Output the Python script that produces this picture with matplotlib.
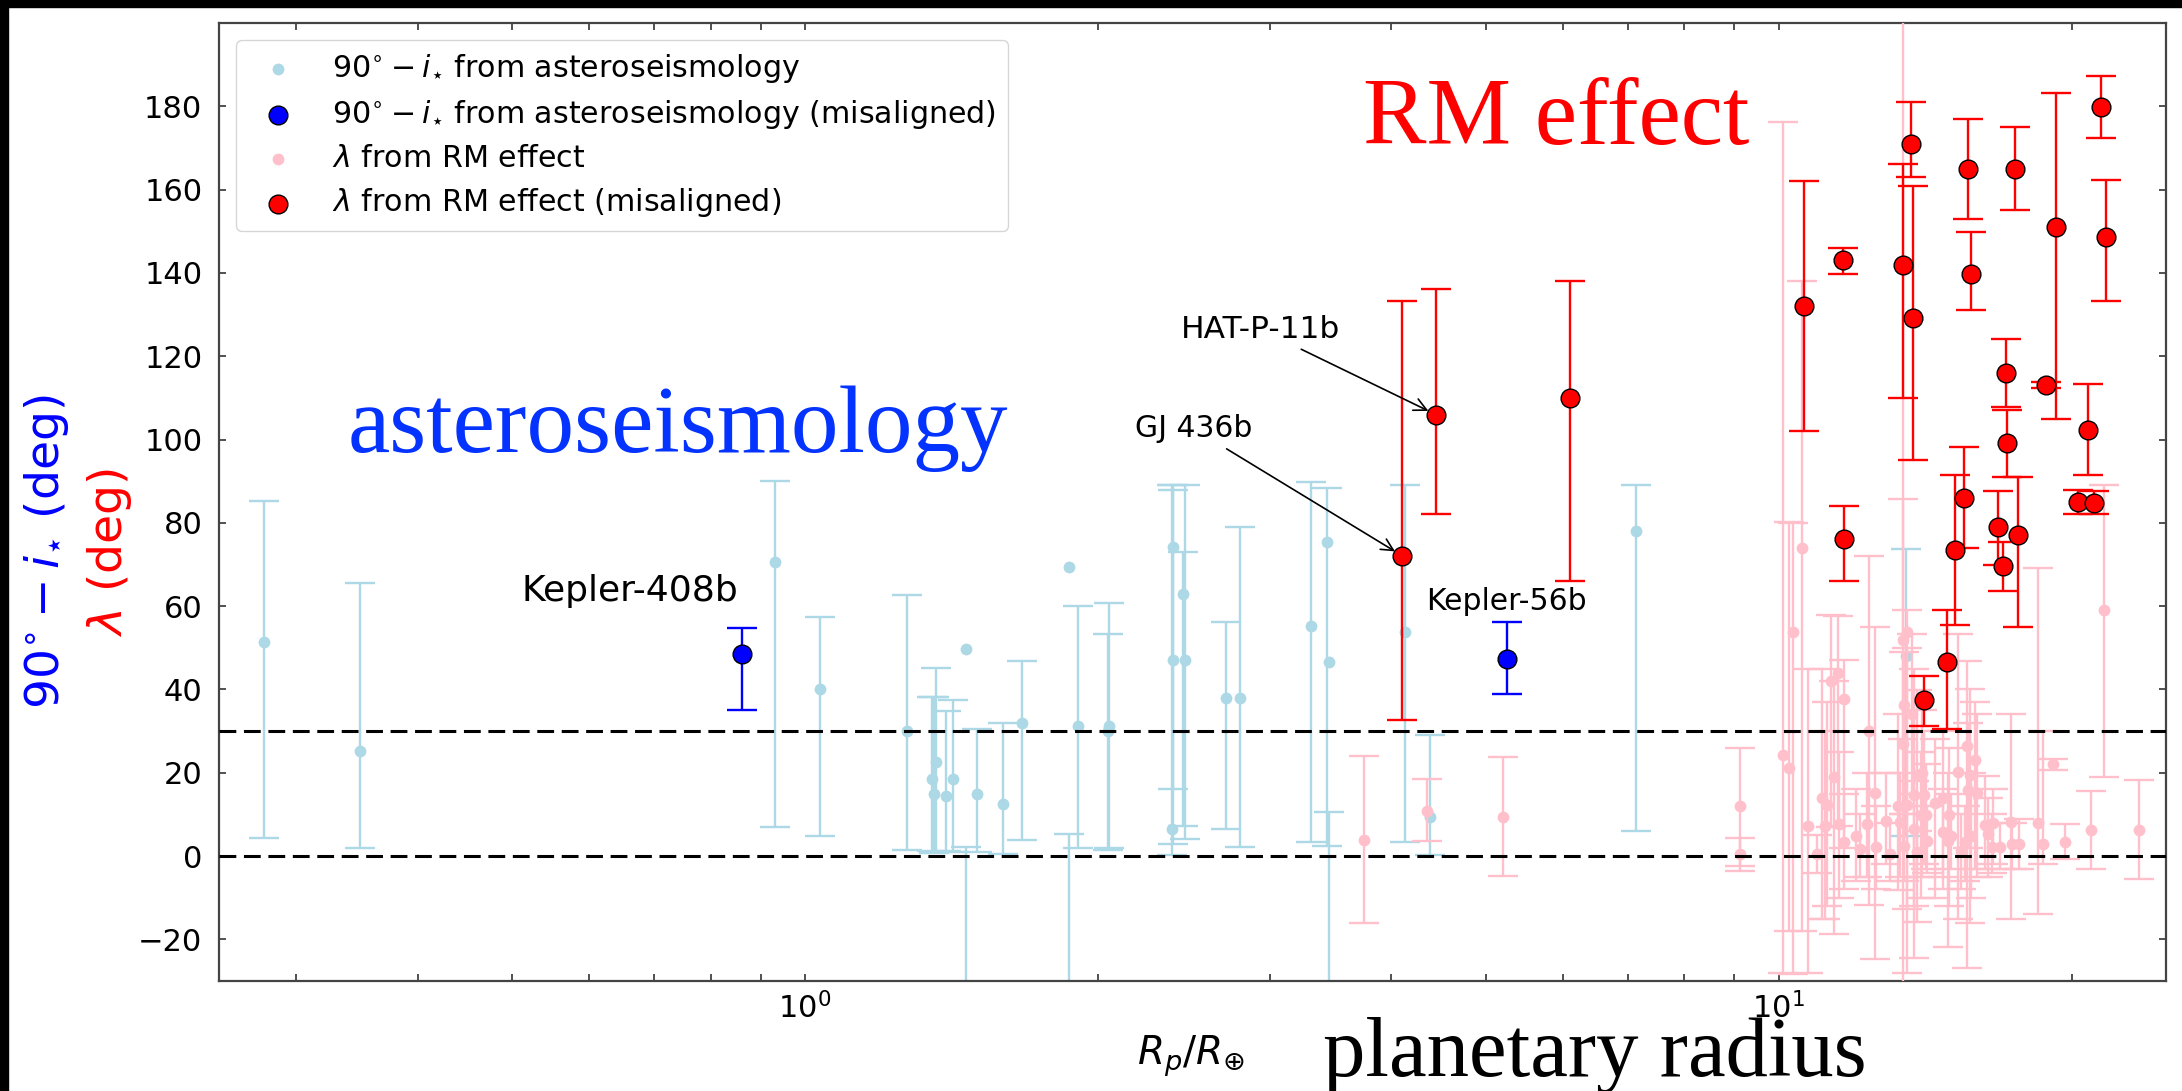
import numpy as np
import matplotlib
matplotlib.use("Agg")
import matplotlib.pyplot as plt
from matplotlib.patches import Rectangle

# ---------------- data ----------------
# 90 - i_star from asteroseismology (aligned); bars given by their end points
ast_R = [0.278, 0.349, 0.931, 1.036, 1.272, 1.364, 1.349, 1.357, 1.394, 1.418, 1.462, 1.502,
         1.596, 1.669, 1.866, 1.909, 2.050, 2.045, 2.387, 2.390, 2.381, 2.443, 2.458, 2.708,
         2.795, 3.309, 3.434, 3.45, 4.134, 4.38, 7.138, 13.53]
ast_val = [51.3, 25.2, 70.7, 40.2, 30.1, 22.6, 18.6, 14.9, 14.4, 18.5, 49.6, 14.9,
           12.6, 32.0, 69.3, 31.2, 31.2, 30.1, 74.1, 47.0, 6.4, 62.8, 47.0, 37.9,
           37.9, 55.2, 75.5, 46.6, 53.8, 9.4, 78.1, 48.1]
ast_lo = [4.3, 1.9, 7.0, 4.7, 1.5, 0.9, 1.1, 0.7, 1.3, 0.9, -70.0, 1.0,
          0.4, 3.9, -70.0, 1.9, 1.9, 1.5, 3.0, 16.2, 0.2, 7.3, 4.1, 6.6,
          2.1, 3.3, 2.3, -70.0, 3.4, 0.3, 6.1, 4.9]
ast_hi = [85.3, 65.5, 90.0, 57.3, 62.7, 45.2, 38.2, 38.1, 34.8, 37.4, 2.1, 30.5,
          31.9, 46.9, 5.2, 60.0, 60.7, 53.3, 89.0, 87.8, 89.0, 73.0, 89.0, 56.3,
          79.1, 89.8, 88.4, 10.6, 89.0, 29.0, 89.0, 73.6]

# asteroseismology misaligned
mast_R = [0.861, 5.26]
mast_val = [48.4, 47.3]
mast_lo = [35.1, 38.8]
mast_hi = [54.7, 56.2]

# lambda from RM effect (aligned)
rm_R = [3.753, 4.35, 5.21, 9.13, 9.13, 10.10, 10.24, 10.34, 10.57, 10.71, 11.31, 11.50,
        11.68, 11.40, 11.09, 11.22, 11.15, 11.53, 11.68, 10.96, 12.0, 12.39, 12.56, 12.33,
        12.59, 12.11, 12.9, 13.25, 13.02, 13.42, 13.55, 13.45, 13.71, 13.88, 14.05, 13.77,
        14.11, 13.55, 13.99, 14.16, 13.34, 13.77, 14.2, 13.45, 13.88, 13.41, 14.48, 14.74,
        14.95, 14.74, 15.04, 14.92, 15.28, 15.63, 15.93, 15.74, 15.65, 15.97, 15.78, 15.53,
        15.40, 16.29, 16.62, 16.42, 16.55, 16.89, 17.34, 17.37, 17.65, 18.45, 18.7, 19.12,
        19.71, 20.92, 21.59, 23.45]
rm_val = [3.9, 10.9, 9.3, 12.0, 0.4, 24.2, 21.2, 53.9, 74.0, 7.1, 42.0, 43.9,
          37.6, 19.0, 14.0, 12.2, 7.1, 7.8, 3.3, 0.6, 4.9, 30.1, 15.1, 7.6,
          2.1, 1.7, 8.4, 12.0, 0.4, 51.9, 53.9, 36.2, 34.2, 19.5, 19.9, 14.7,
          14.7, 12.2, 9.8, 9.9, 8.1, 6.5, 3.7, 2.5, 0.9, 26.8, 12.8, 14.0,
          9.8, 5.7, 4.9, 3.7, 20.2, 26.3, 23.0, 19.4, 15.9, 15.1, 4.9, 3.3,
          1.2, 7.4, 7.9, 5.3, 2.1, 2.1, 8.1, 2.9, 2.9, 8.0, 3.0, 22.2,
          3.4, 6.3, 59.0, 6.3]
rm_lo = [-16.1, 3.7, -4.8, -2.4, -3.5, -28.0, -18.0, -28.2, -17.9, -28.0, 7.0, 7.3,
         2.0, -18.7, -15.0, -12.0, -15.0, -10.0, -8.0, -4.0, -6.0, -11.8, -24.8, -5.0,
         -8.0, -5.0, -2.0, -8.1, -6.0, 28.0, -12.6, 10.0, 15.0, -15.8, -5.0, -24.4,
         -2.0, -28.0, -10.0, -3.0, -5.0, -12.0, -4.0, -6.0, -5.0, -45.0, -10.0, -5.0,
         -12.0, -8.0, -3.0, -21.9, -15.2, -26.8, -3.0, -16.1, 2.0, -5.0, -10.0, -6.0,
         -8.0, -3.2, -2.0, -5.0, -4.0, -3.0, -15.2, -3.0, -3.2, -14.0, -2.0, 20.7,
         -0.8, -3.0, 18.9, -5.5]
rm_hi = [24.0, 18.5, 23.7, 25.9, 4.3, 176.2, 80.1, 80.0, 138.0, 44.9, 57.9, 57.6,
         47.0, 42.0, 44.9, 37.0, 30.0, 25.0, 15.0, 5.0, 16.0, 72.0, 54.9, 20.0,
         12.0, 10.0, 20.0, 34.2, 8.0, 85.8, 59.0, 49.0, 53.3, 39.9, 35.0, 45.0,
         30.0, 50.0, 25.0, 22.0, 20.0, 18.0, 12.0, 10.0, 6.0, 215.0, 28.0, 30.0,
         26.0, 16.0, 15.0, 20.0, 53.2, 46.8, 37.0, 40.0, 32.0, 34.0, 20.0, 12.0,
         10.0, 19.1, 16.0, 14.0, 10.0, 8.0, 34.0, 8.0, 9.0, 69.1, 30.0, 23.4,
         7.7, 15.6, 89.1, 18.2]

# lambda from RM effect (misaligned)
mrm_R = [4.105, 4.446, 6.099, 10.62, 11.65, 11.68, 13.41, 13.67, 13.73, 15.64, 15.77, 17.49,
         17.11, 17.17, 18.82, 19.28, 21.43, 21.68, 20.8, 20.3, 21.1, 15.52, 15.16, 14.89,
         14.11, 16.81, 17.0, 17.6]
mrm_val = [72.1, 106.0, 110.0, 132.0, 143.0, 76.0, 142.0, 170.9, 129.1, 165.0, 139.7, 165.0,
           116.0, 99.1, 113.0, 151.0, 179.8, 148.7, 102.2, 85.0, 84.8, 86.0, 73.5, 46.7,
           37.4, 79.0, 69.6, 77.1]
mrm_lo = [32.7, 82.0, 66.0, 102.0, 139.8, 66.0, 110.0, 163.0, 95.1, 153.0, 131.1, 155.0,
          107.7, 90.9, 112.4, 105.0, 172.4, 133.3, 91.6, 82.0, 82.0, 74.0, 55.5, 30.4,
          31.3, 69.9, 63.6, 55.0]
mrm_hi = [133.2, 136.1, 138.0, 162.0, 146.1, 84.0, 166.1, 181.1, 160.8, 177.0, 149.9, 175.1,
          124.1, 107.0, 113.8, 183.1, 187.3, 162.2, 113.3, 88.0, 87.6, 98.1, 91.5, 59.0,
          43.3, 87.6, 75.5, 90.9]

yticks = [-20, 0, 20, 40, 60, 80, 100, 120, 140, 160, 180]
hlines = [0, 30]

# annotations: (label, x, y, fontsize) and arrow targets
ann_plain = [("Kepler-408b", 0.660, 63.7, 26), ("Kepler-56b", 5.254, 61.1, 21.5)]
ann_arrow = [("GJ 436b", 2.506, 102.6, 4.105, 72.1, 21.5),
             ("HAT-P-11b", 2.937, 126.4, 4.446, 106.0, 22.5)]

# ---------------- figure ----------------
W, H = 2182, 1091
fig = plt.figure(figsize=(W / 100, H / 100), dpi=100)
fig.patch.set_facecolor("white")
ax = fig.add_axes([219 / W, 1 - 981 / H, (2166 - 219) / W, (981 - 23) / H])


def bars(R, lo, hi, color, lw, z):
    lo = np.asarray(lo, float)
    hi = np.asarray(hi, float)
    ax.errorbar(R, (lo + hi) / 2, yerr=(hi - lo) / 2, fmt="none", ecolor=color,
                elinewidth=lw, capsize=10.5, capthick=lw, zorder=z)


bars(ast_R, ast_lo, ast_hi, "lightblue", 1.7, 2)
ax.scatter(ast_R, ast_val, s=8.5 ** 2, color="lightblue", lw=0, zorder=2.5,
           label=r"$90^{\circ}-i_{\star}$ from asteroseismology")
bars(mast_R, mast_lo, mast_hi, "blue", 1.7, 3)
ax.scatter(mast_R, mast_val, s=13.5 ** 2, color="blue", edgecolor="black", lw=1.0, zorder=3.5,
           label=r"$90^{\circ}-i_{\star}$ from asteroseismology (misaligned)")
bars(rm_R, rm_lo, rm_hi, "pink", 1.7, 4)
ax.scatter(rm_R, rm_val, s=8.5 ** 2, color="pink", lw=0, zorder=4.5,
           label=r"$\lambda$ from RM effect")
bars(mrm_R, mrm_lo, mrm_hi, "red", 1.7, 5)
ax.scatter(mrm_R, mrm_val, s=13.5 ** 2, color="red", edgecolor="black", lw=1.0, zorder=5.5,
           label=r"$\lambda$ from RM effect (misaligned)")

for h in hlines:
    ax.axhline(h, color="black", lw=2.2, ls=(0, (5.5, 2.5)), zorder=6)

ax.set_xscale("log")
ax.set_xlim(0.25, 25)
ax.set_ylim(-30, 200)
ax.set_yticks(yticks)
ax.tick_params(which="both", direction="in", top=True, right=True, length=5, width=1.2,
               labelsize=22, color="#333333")
ax.tick_params(axis="y", pad=12)
ax.tick_params(axis="x", pad=8)
for s in ax.spines.values():
    s.set_color("#444444")
    s.set_linewidth(1.6)

ax.legend(loc="upper left", fontsize=21.7, borderaxespad=0.55, handletextpad=0.8,
          labelspacing=0.44, scatterpoints=1)

for txt, x, y, fs in ann_plain:
    ax.text(x, y, txt, fontsize=fs, ha="center", va="center", zorder=7)
for txt, x, y, px, py, fs in ann_arrow:
    ax.annotate(txt, xy=(px, py), xytext=(x, y), fontsize=fs, ha="center", va="center",
                arrowprops=dict(arrowstyle="->", color="black", lw=1.2,
                                shrinkA=4, shrinkB=6), zorder=7)

# axis labels
fig.text(47 / W, 1 - 552 / H, r"$90^{\circ}-i_{\star}$ (deg)", color="blue", fontsize=34,
         rotation=90, ha="center", va="center")
fig.text(110 / W, 1 - 553 / H, r"$\lambda$ (deg)", color="red", fontsize=34,
         rotation=90, ha="center", va="center")
fig.text(1191 / W, 1 - 1065 / H, r"$R_p/R_{\oplus}$", fontsize=28, ha="center",
         va="baseline")

# overlay words
serif = "Liberation Serif"
fig.text(348 / W, 1 - 452 / H, "asteroseismology", color="#0432ff", fontsize=68.5,
         family=serif, ha="left", va="baseline")
fig.text(1363 / W, 1 - 144 / H, "RM effect", color="#ff0000", fontsize=68.5,
         family=serif, ha="left", va="baseline")
fig.text(1323 / W, 1 - 1076 / H, "planetary radius", color="black", fontsize=61,
         family=serif, ha="left", va="baseline")

# black frame strips of the screenshot
fig.patches.append(Rectangle((0, 1 - 7 / H), 1, 7 / H, transform=fig.transFigure,
                             color="black", zorder=10))
fig.patches.append(Rectangle((0, 0), 8 / W, 1, transform=fig.transFigure,
                             color="black", zorder=10))

fig.savefig("out.png", dpi=100)
